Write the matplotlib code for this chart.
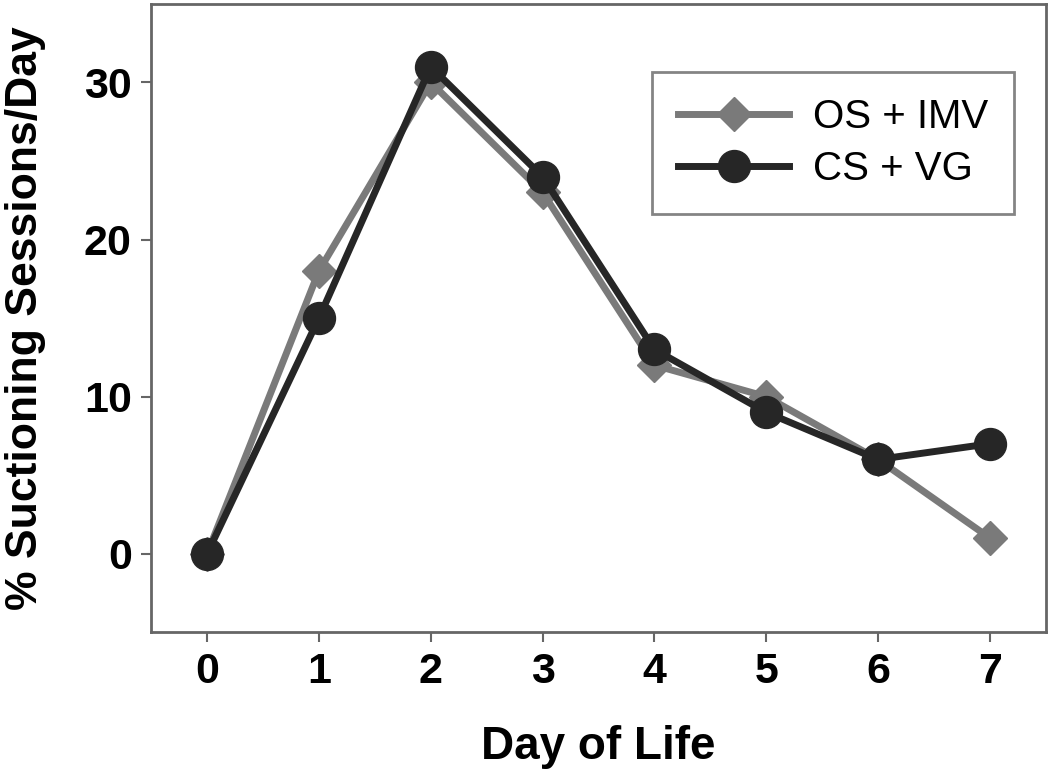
import matplotlib.pyplot as plt

# Data
days = [0, 1, 2, 3, 4, 5, 6, 7]
os_imv = [0, 18, 30, 23, 12, 10, 6, 1]
cs_vg = [0, 15, 31, 24, 13, 9, 6, 7]

plt.rcParams['font.family'] = ['Liberation Sans', 'DejaVu Sans']
plt.rcParams['font.weight'] = 'bold'

fig = plt.figure(figsize=(10.5, 7.72), dpi=100)
ax = fig.add_axes([0.144, 0.181, 0.852, 0.814])

ax.plot(days, os_imv, color='#7a7a7a', lw=5, marker='D', ms=17,
        label='OS + IMV')
ax.plot(days, cs_vg, color='#262626', lw=5, marker='o', ms=23,
        label='CS + VG')

ax.set_xlim(-0.5, 7.5)
ax.set_ylim(-5, 35)
ax.set_xticks(days)
ax.set_yticks([0, 10, 20, 30])

for s in ax.spines.values():
    s.set_color('#666666')
    s.set_linewidth(2)
ax.tick_params(direction='out', length=7, width=1.5, color='#666666',
               labelsize=31, pad=7)

ax.set_xlabel('Day of Life', fontsize=33, fontweight='bold', labelpad=24)
ax.set_ylabel('% Suctioning Sessions/Day', fontsize=32, fontweight='bold',
              labelpad=27)

leg = ax.legend(loc='upper right', bbox_to_anchor=(0.965, 0.892),
                fontsize=29, frameon=True, fancybox=False,
                handlelength=2.75, borderpad=0.65, labelspacing=0.35,
                handletextpad=0.6, borderaxespad=0)
leg.get_frame().set_edgecolor('#666666')
leg.get_frame().set_linewidth(2)
for t in leg.get_texts():
    t.set_fontweight('normal')

fig.savefig('out.png', dpi=100)
